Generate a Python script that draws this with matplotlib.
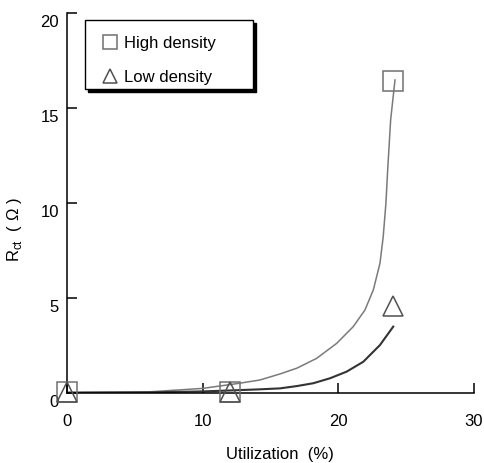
import matplotlib
matplotlib.use("Agg")
import matplotlib.pyplot as plt
import matplotlib.patches as patches
import matplotlib.transforms as mtransforms

plt.rcParams['font.family'] = ['Liberation Sans', 'DejaVu Sans']
plt.rcParams['mathtext.fontset'] = 'custom'
plt.rcParams['mathtext.rm'] = 'Liberation Sans'

# measured points
util = [0, 12, 24]
high_rct = [0.05, 0.05, 16.45]
low_rct = [0.05, 0.05, 4.62]

# fitted curves
high_fit_x = [0, 4.85, 6.1, 10, 12.7, 14.2, 15.69, 16.92, 18.39, 19.87, 21.09, 21.95,
              22.57, 23.06, 23.3, 23.5, 23.63, 23.85, 24.17]
high_fit_y = [0.05, 0.07, 0.08, 0.26, 0.53, 0.7, 1.02, 1.32, 1.84, 2.63, 3.51, 4.38,
              5.44, 6.84, 8.24, 10.0, 11.76, 14.4, 16.49]
low_fit_x = [0, 6, 10, 12, 14.2, 15.69, 16.92, 18.14, 19.37, 20.6, 21.83, 23.06, 24.04]
low_fit_y = [0.03, 0.05, 0.1, 0.15, 0.21, 0.26, 0.38, 0.53, 0.79, 1.14, 1.66, 2.54, 3.51]

xticks = [0, 10, 20, 30]
yticks = [0, 5, 10, 15, 20]

fig = plt.figure(figsize=(4.85, 4.63), dpi=100)
ax = fig.add_axes([0.1388, 0.1505, 0.8386, 0.8208])

ax.plot(high_fit_x, high_fit_y, color='#7a7a7a', lw=1.1, zorder=2)
ax.plot(low_fit_x, low_fit_y, color='#333333', lw=1.5, zorder=2)

ax.plot(util, high_rct, linestyle='none', marker='s', ms=14, mfc='none',
        mec='#707070', mew=1.1, label='High density', clip_on=False, zorder=3)
ax.plot(util, low_rct, linestyle='none', marker='^', ms=14, mfc='none',
        mec='#505050', mew=1.1, label='Low density', clip_on=False, zorder=3)

ax.set_xlim(0, 30)
ax.set_ylim(0, 20)
ax.set_xticks(xticks)
ax.set_yticks(yticks)
ax.spines['top'].set_visible(False)
ax.spines['right'].set_visible(False)
ax.spines['left'].set_linewidth(1.1)
ax.spines['bottom'].set_linewidth(1.1)
ax.tick_params(axis='both', direction='in', length=7.5, width=1.1, labelsize=12)
ax.tick_params(axis='x', pad=15)
ax.tick_params(axis='y', pad=6)

# y tick labels sit a bit below their ticks
off = mtransforms.ScaledTranslation(0, -0.08, fig.dpi_scale_trans)
for lab in ax.get_yticklabels():
    lab.set_transform(lab.get_transform() + off)

ax.set_xlabel('Utilization  (%)', fontsize=12)
ax.xaxis.set_label_coords(0.523, -0.141)
ax.set_ylabel(r'R$_{\rm ct}$  ( Ω )', fontsize=12)
ax.yaxis.set_label_coords(-0.106, 0.43)

# legend box drawn by hand so the text can sit low in it, like the original
shift = mtransforms.ScaledTranslation(0.03, -0.03, fig.dpi_scale_trans)
shadow = patches.Rectangle((0.0435, 0.80), 0.413, 0.182, transform=ax.transAxes + shift,
                           facecolor='black', edgecolor='black', lw=1.0, zorder=4.9)
box = patches.Rectangle((0.0435, 0.80), 0.413, 0.182, transform=ax.transAxes,
                        facecolor='white', edgecolor='black', lw=1.0, zorder=5)
ax.add_patch(shadow)
ax.add_patch(box)

leg = ax.legend(loc='upper left', bbox_to_anchor=(0.085, 0.940),
                borderaxespad=0, borderpad=0, fontsize=12, markerscale=0.75,
                handlelength=1.0, handletextpad=0.3, labelspacing=1.15,
                frameon=False)
leg.set_zorder(6)

fig.savefig('out.png', dpi=100)
